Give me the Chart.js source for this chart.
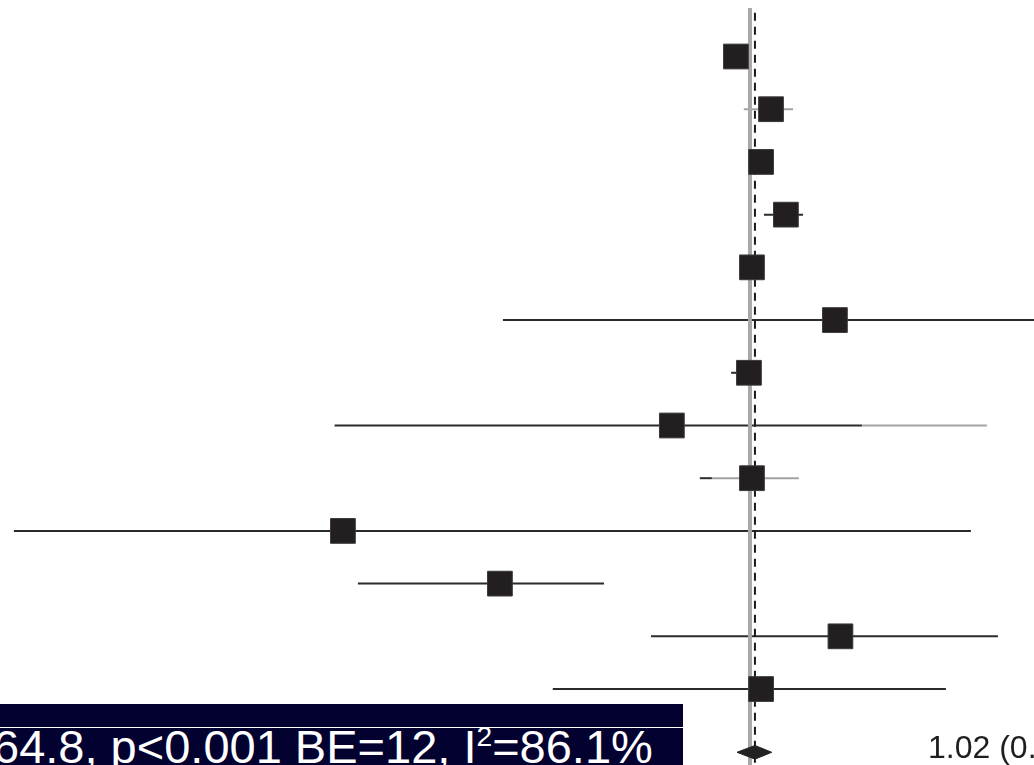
<!DOCTYPE html>
<html>
<head>
<meta charset="utf-8">
<script src="https://cdn.jsdelivr.net/npm/chart.js@4/dist/chart.umd.min.js"></script>
<style>
  html, body { margin: 0; padding: 0; background: #fff; }
  body { width: 1034px; height: 765px; overflow: hidden; position: relative; font-family: "Liberation Sans", Arial, sans-serif; }
  #forest { position: absolute; left: 0; top: 0; }
  #statsBox { position: absolute; left: 0; top: 704px; width: 683px; height: 61px; background: #02012f; overflow: hidden; }
  #statsBox .rule { position: absolute; left: 0; top: 23px; width: 100%; height: 1px; background: #fff; }
  #statsText { position: absolute; left: -7px; top: 19px; font-size: 47px; line-height: 47px; color: #fff; white-space: nowrap; }
  #statsText sup { font-size: 0.6em; vertical-align: baseline; position: relative; top: -0.62em; }
  #pooledText { position: absolute; left: 928px; top: 731px; font-size: 32px; line-height: 32px; color: #1e1e1e; white-space: nowrap; }
</style>
</head>
<body>
<canvas id="forest" width="1034" height="765"></canvas>
<div id="statsBox"><div class="rule"></div><div id="statsText">64.8, p&lt;0.001 BE=12, I<sup>2</sup>=86.1%</div></div>
<div id="pooledText">1.02 (0.95, 1.09)</div>
<script>
// Study rows (labels are cropped off in the reference)
const rows = [1, 2, 3, 4, 5, 6, 7, 8, 9, 10, 11, 12, 13];

// Point estimates and 95% CI (ratio scale)
const estimate = [0.946, 1.087, 1.045, 1.153, 1.008, 1.400, 0.996, 0.734, 1.008, 0.1995, 0.3715, 1.431, 1.045];
const ciLow = [0.92, 0.976, 1.02, 1.057, 0.98, 0.376, 0.928, 0.193, 0.820, 0.0542, 0.2117, 0.6757, 0.458];
const ciHigh = [0.97, 1.186, 1.07, 1.234, 1.04, 3.3, 1.03, 2.556, 1.214, 2.399, 0.561, 2.670, 2.173];
// part of a CI drawn in light grey, from this value to the upper limit
const ciGreyFrom = [null, 0.976, null, null, null, null, null, 1.558, 0.86, null, null, null, null];

// Pooled estimate
const pooledRow = 14.2;
const pooled = 1.02;
const pooledLow = 0.95;
const pooledHigh = 1.09;

const darkLine = "#2b2b2b";
const greyLine = "#a3a3a3";

const datasets = [];

// squares
datasets.push({
  data: rows.map((r, i) => ({ x: estimate[i], y: r })),
  showLine: false,
  pointStyle: "rect",
  pointRadius: 17.5,
  backgroundColor: "#231f20",
  borderColor: "#3a3a3a",
  borderWidth: 1,
  order: 0,
});

// pooled diamond (upper half filled down to lower half)
datasets.push({
  data: [
    { x: pooledLow, y: pooledRow },
    { x: pooled, y: pooledRow - 0.13 },
    { x: pooledHigh, y: pooledRow },
  ],
  showLine: true,
  pointRadius: 0,
  borderColor: "#222",
  borderWidth: 1,
  backgroundColor: "#222",
  fill: "+1",
  order: 0,
});
datasets.push({
  data: [
    { x: pooledLow, y: pooledRow },
    { x: pooled, y: pooledRow + 0.13 },
    { x: pooledHigh, y: pooledRow },
  ],
  showLine: true,
  pointRadius: 0,
  borderColor: "#222",
  borderWidth: 1,
  fill: false,
  order: 0,
});

// dashed line at pooled estimate
datasets.push({
  data: [{ x: pooled, y: 0.17 }, { x: pooled, y: 15 }],
  showLine: true,
  pointRadius: 0,
  borderColor: "#1a1a1a",
  borderWidth: 2,
  borderDash: [8, 6],
  order: 1,
});

// line of no effect
datasets.push({
  data: [{ x: 1, y: 0.08 }, { x: 1, y: 15 }],
  showLine: true,
  pointRadius: 0,
  borderColor: "#a8a8a8",
  borderWidth: 4,
  order: 2,
});

// confidence intervals
rows.forEach((r, i) => {
  const g = ciGreyFrom[i];
  if (g !== null && g > ciLow[i]) {
    datasets.push({
      data: [{ x: ciLow[i], y: r }, { x: g, y: r }],
      showLine: true, pointRadius: 0, borderColor: darkLine, borderWidth: 2, order: 3,
    });
  }
  datasets.push({
    data: [{ x: g !== null ? g : ciLow[i], y: r }, { x: ciHigh[i], y: r }],
    showLine: true, pointRadius: 0,
    borderColor: g !== null ? greyLine : darkLine,
    borderWidth: 2, order: 3,
  });
});

new Chart(document.getElementById("forest").getContext("2d"), {
  type: "scatter",
  data: { datasets: datasets },
  options: {
    responsive: false,
    devicePixelRatio: 1,
    animation: false,
    events: [],
    layout: { padding: 0, autoPadding: false },
    plugins: { legend: { display: false }, tooltip: { enabled: false } },
    scales: {
      x: { type: "logarithmic", min: 0.0513, max: 3.08, display: false },
      y: { type: "linear", min: -0.072, max: 14.441, reverse: true, display: false },
    },
  },
});
</script>
</body>
</html>
